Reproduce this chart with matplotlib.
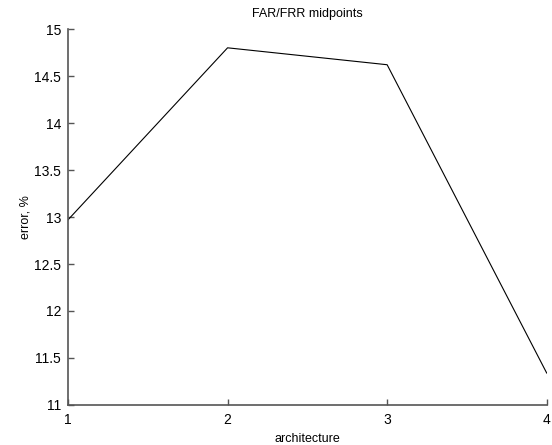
import matplotlib
matplotlib.use("Agg")
import matplotlib.pyplot as plt

architecture = [1, 2, 3, 4]
error_pct = [12.97, 14.80, 14.62, 11.34]

plt.rcParams['font.family'] = ['Liberation Sans', 'DejaVu Sans']
plt.rcParams['font.size'] = 8

fig = plt.figure(figsize=(5.52, 4.45), dpi=100)
ax = fig.add_axes([0.1232, 0.0899, 0.8672, 0.8449])

ax.plot(architecture, error_pct, color='black', linewidth=0.8)

ax.set_xlim(1, 4)
ax.set_ylim(11, 15)
ax.set_xticks([1, 2, 3, 4])
ax.set_yticks([11, 11.5, 12, 12.5, 13, 13.5, 14, 14.5, 15])
ax.set_yticklabels(['11', '11.5', '12', '12.5', '13', '13.5', '14', '14.5', '15'])

for side in ['top', 'right']:
    ax.spines[side].set_visible(False)
for side in ['left', 'bottom']:
    ax.spines[side].set_color('#555555')
    ax.spines[side].set_linewidth(1.2)
ax.tick_params(direction='in', length=4, width=1, color='#555555', labelsize=10)
ax.tick_params(axis='y', pad=5)
ax.tick_params(axis='x', pad=6)

ax.set_title('FAR/FRR midpoints', fontsize=9, pad=9)
ax.set_xlabel('architecture', fontsize=9, labelpad=4)
ax.set_ylabel('error, %', fontsize=9, labelpad=2)

fig.savefig('out.png', dpi=100)
